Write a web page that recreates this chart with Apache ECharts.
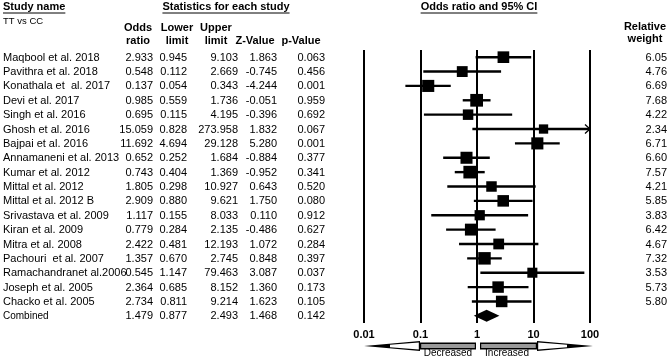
<!DOCTYPE html>
<html>
<head>
<meta charset="utf-8">
<script src="https://cdn.jsdelivr.net/npm/echarts@6/dist/echarts.min.js"></script>
<style>
  html, body { margin: 0; padding: 0; background: #fff; }
  #forest { width: 670px; height: 359px; }
</style>
</head>
<body>
<div id="forest"></div>
<script>
// rows, top to bottom (last one is the pooled estimate)
const studies = ['Maqbool et al. 2018', 'Pavithra et al. 2018', 'Konathala et  al. 2017', 'Devi et al. 2017',
  'Singh et al. 2016', 'Ghosh et al. 2016', 'Bajpai et al. 2016', 'Annamaneni et al. 2013', 'Kumar et al. 2012',
  'Mittal et al. 2012', 'Mittal et al. 2012 B', 'Srivastava et al. 2009', 'Kiran et al. 2009', 'Mitra et al. 2008',
  'Pachouri  et al. 2007', 'Ramachandranet al.2006', 'Joseph et al. 2005', 'Chacko et al. 2005', 'Combined']
const oddsRatio = [2.933, 0.548, 0.137, 0.985, 0.695, 15.059, 11.692, 0.652, 0.743, 1.805, 2.909, 1.117, 0.779,
  2.422, 1.357, 9.545, 2.364, 2.734, 1.479]
const lowerLimit = [0.945, 0.112, 0.054, 0.559, 0.115, 0.828, 4.694, 0.252, 0.404, 0.298, 0.880, 0.155, 0.284,
  0.481, 0.670, 1.147, 0.685, 0.811, 0.877]
const upperLimit = [9.103, 2.669, 0.343, 1.736, 4.195, 273.958, 29.128, 1.684, 1.369, 10.927, 9.621, 8.033, 2.135,
  12.193, 2.745, 79.463, 8.152, 9.214, 2.493]
const zValue = [1.863, -0.745, -4.244, -0.051, -0.396, 1.832, 5.280, -0.884, -0.952, 0.643, 1.750, 0.110, -0.486,
  1.072, 0.848, 3.087, 1.360, 1.623, 1.468]
const pValue = [0.063, 0.456, 0.001, 0.959, 0.692, 0.067, 0.001, 0.377, 0.341, 0.520, 0.080, 0.912, 0.627,
  0.284, 0.397, 0.037, 0.173, 0.105, 0.142]
const relWeight = [6.05, 4.76, 6.69, 7.68, 4.22, 2.34, 6.71, 6.60, 7.57, 4.21, 5.85, 3.83, 6.42, 4.67, 7.32,
  3.53, 5.73, 5.80, null]
// the source table prints this odds ratio as 0.545 (the square sits at 9.545)
const orLabelFix = {15: '0.545'}
const xTicks = ['0.01', '0.1', '1', '10', '100']

const nStudies = studies.length - 1
const black = '#000'
const FONT = 'Liberation Sans, Arial, sans-serif'

const chart = echarts.init(document.getElementById('forest'))

function measure(text, font) {
  const ctx = document.createElement('canvas').getContext('2d')
  ctx.font = font
  return ctx.measureText(text).width
}

// bold underlined header
function header(text, cx, cy, align) {
  const font = 'bold 11px ' + FONT
  const w = measure(text, font)
  const left = align === 'left' ? cx : cx - w / 2
  return [
    {type: 'text', x: left, y: cy, style: {text, font, fill: black, textAlign: 'left', textVerticalAlign: 'middle'}},
    {type: 'line', shape: {x1: left, y1: cy + 6, x2: left + w, y2: cy + 6}, style: {stroke: black, lineWidth: 1}}
  ]
}

function colHead(text, cx, cy) {
  return {type: 'text', x: cx, y: cy, style: {text, font: 'bold 11px ' + FONT, fill: black,
    textAlign: 'center', textVerticalAlign: 'middle'}}
}

const fmt = (v, d) => v.toFixed(d)

// table text, one row per category of the y axis
function renderTable(params, api) {
  const i = api.value(1)
  const y = api.coord([1, i])[1]
  const cols = [
    [studies[i], 3, 'left'],
    [orLabelFix[i] || fmt(oddsRatio[i], 3), 153, 'right'],
    [fmt(lowerLimit[i], 3), 187, 'right'],
    [fmt(upperLimit[i], 3), 238, 'right'],
    [fmt(zValue[i], 3), 277, 'right'],
    [fmt(pValue[i], 3), 325, 'right']
  ]
  if (relWeight[i] != null) cols.push([fmt(relWeight[i], 2), 667, 'right'])
  return {
    type: 'group',
    children: cols.map(([text, x, align], k) => ({
      type: 'text', x, y: y + 0.5,
      style: {text, font: (i === nStudies && k === 0 ? '10px ' : '11px ') + FONT, fill: black,
        textAlign: align, textVerticalAlign: 'middle'}
    }))
  }
}

// confidence interval line, arrow when it runs past the axis
function renderCI(params, api) {
  const row = api.value(0)
  const lo = api.value(1), hi = api.value(2)
  const capped = hi > 100
  const a = api.coord([lo, row])
  const b = api.coord([capped ? 100 : hi, row])
  const kids = [{type: 'line', shape: {x1: a[0], y1: a[1], x2: b[0], y2: b[1]},
    style: {stroke: black, lineWidth: 2.4}}]
  if (capped) {
    kids.push({type: 'polyline', shape: {points: [[b[0] - 5, b[1] - 4.5], [b[0], b[1]], [b[0] - 5, b[1] + 4.5]]},
      style: {stroke: black, fill: null, lineWidth: 1.3}})
  }
  return {type: 'group', children: kids}
}

function renderDiamond(params, api) {
  const row = api.value(0)
  const l = api.coord([api.value(1), row])
  const c = api.coord([api.value(3), row])
  const r = api.coord([api.value(2), row])
  return {type: 'polygon', shape: {points: [[l[0], l[1]], [c[0], c[1] - 6], [r[0], r[1]], [c[0], c[1] + 6]]},
    style: {fill: black}}
}

const ciData = []
for (let i = 0; i < nStudies; i++) ciData.push([i, lowerLimit[i], upperLimit[i]])
const squareData = []
for (let i = 0; i < nStudies; i++) squareData.push([oddsRatio[i], i, relWeight[i]])

chart.setOption({
  animation: false,
  backgroundColor: '#fff',
  grid: {left: 364, right: 80, top: 50, bottom: 36},
  xAxis: {
    type: 'log', logBase: 10, min: 0.01, max: 100,
    axisLine: {show: false}, axisTick: {show: false},
    splitLine: {show: true, lineStyle: {color: black, width: 2}},
    axisLabel: {margin: 6, color: black, fontWeight: 'bold', fontSize: 11, fontFamily: FONT,
      formatter: v => xTicks.find(t => Math.abs(Number(t) - v) < v * 1e-6) || ''}
  },
  yAxis: {
    type: 'category', inverse: true, data: studies,
    axisLine: {show: false}, axisTick: {show: false}, axisLabel: {show: false}, splitLine: {show: false}
  },
  series: [
    {type: 'custom', renderItem: renderCI, data: ciData, encode: {x: [1, 2], y: 0}, z: 2},
    {type: 'scatter', data: squareData, symbol: 'rect', symbolSize: v => 7.8 + 0.64 * v[2],
      itemStyle: {color: black, opacity: 1}, z: 3},
    {type: 'custom', renderItem: renderDiamond,
      data: [[nStudies, lowerLimit[nStudies], upperLimit[nStudies], oddsRatio[nStudies]]],
      encode: {x: [1, 2, 3], y: 0}, z: 3},
    {type: 'custom', renderItem: renderTable, clip: false,
      data: studies.map((s, i) => [1, i]), encode: {x: 0, y: 1}, z: 4}
  ]
})

// bottom direction arrows, anchored to the axis
const x1 = chart.convertToPixel({xAxisIndex: 0}, 1)
const xL = chart.convertToPixel({xAxisIndex: 0}, 0.01)
const xR = chart.convertToPixel({xAxisIndex: 0}, 100)
const ay = 346

function bigArrow(base, tip) {
  const dir = tip > base ? 1 : -1
  const headStart = tip - dir * 56
  const neck = tip - dir * 26
  return [
    {type: 'polygon', shape: {points: [[base, ay - 3.5], [headStart, ay - 3.5], [headStart, ay - 5], [tip, ay],
      [headStart, ay + 5], [headStart, ay + 3.5], [base, ay + 3.5]]}, style: {fill: black}},
    {type: 'rect', shape: {x: Math.min(base, headStart) + 1.2, y: ay - 2, width: Math.abs(headStart - base) - 2.4, height: 4},
      style: {fill: '#9a9a9a'}},
    {type: 'polygon', shape: {points: [[headStart + dir * 1.2, ay - 3.5], [neck, ay - 1.2], [neck, ay + 1.2], [headStart + dir * 1.2, ay + 3.5]]},
      style: {fill: '#fff'}}
  ]
}

chart.setOption({
  graphic: [
    ...header('Study name', 3, 7, 'left'),
    ...header('Statistics for each study', 226, 7),
    ...header('Odds ratio and 95% CI', x1 + 2, 7),
    {type: 'text', x: 3, y: 21, style: {text: 'TT vs CC', font: '9.5px ' + FONT, fill: black,
      textAlign: 'left', textVerticalAlign: 'middle'}},
    colHead('Odds', 138, 28), colHead('ratio', 138, 41),
    colHead('Lower', 177, 28), colHead('limit', 177, 41),
    colHead('Upper', 216, 28), colHead('limit', 216, 41),
    colHead('Z-Value', 255, 41), colHead('p-Value', 301, 41),
    colHead('Relative', 645, 27), colHead('weight', 645, 39),
    ...bigArrow(x1 - 1, xL),
    ...bigArrow(x1 + 3, xR + 3),
    {type: 'text', x: 448, y: 353, style: {text: 'Decreased', font: '10px ' + FONT, fill: black,
      textAlign: 'center', textVerticalAlign: 'middle'}},
    {type: 'text', x: 507, y: 353, style: {text: 'Increased', font: '10px ' + FONT, fill: black,
      textAlign: 'center', textVerticalAlign: 'middle'}}
  ]
})
</script>
</body>
</html>
